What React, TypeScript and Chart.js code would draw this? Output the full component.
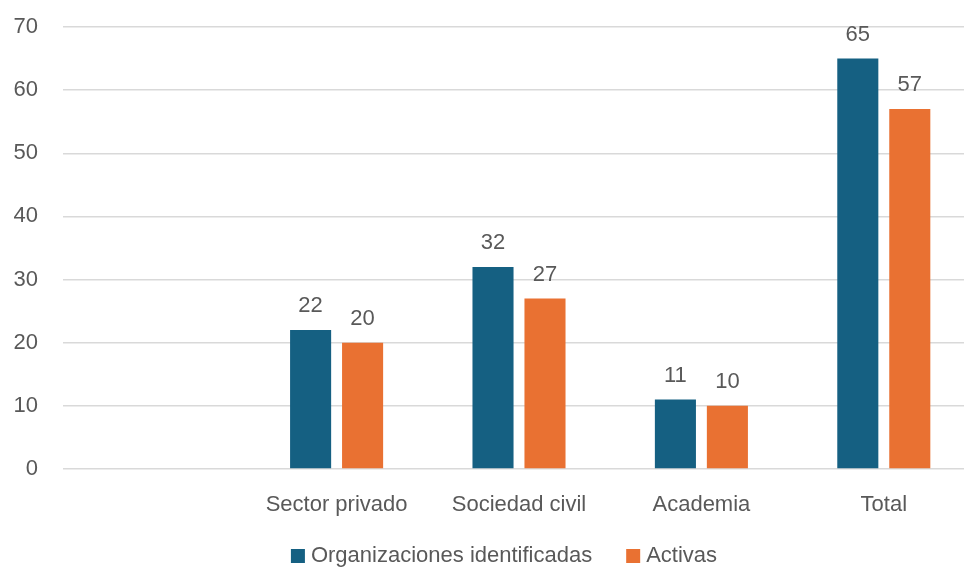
import React, { useEffect, useRef } from "react";
import { Chart, registerables } from "chart.js";

Chart.register(...registerables);

const categories = ["", "Sector privado", "Sociedad civil", "Academia", "Total"];
const identificadas = [null, 22, 32, 11, 65];
const activas = [null, 20, 27, 10, 57];
const seriesNames = ["Organizaciones identificadas", "Activas"];
const seriesColors = ["#156082", "#E97132"];

const FONT = "'Liberation Sans', 'DejaVu Sans', sans-serif";
const GREY = "#595959";

const valueLabels = {
  id: "valueLabels",
  afterDatasetsDraw(chart: any) {
    const ctx = chart.ctx;
    ctx.save();
    ctx.font = `22px ${FONT}`;
    ctx.fillStyle = GREY;
    ctx.textAlign = "center";
    ctx.textBaseline = "bottom";
    chart.data.datasets.forEach((ds: any, i: number) => {
      const meta = chart.getDatasetMeta(i);
      meta.data.forEach((bar: any, j: number) => {
        const v = ds.data[j];
        if (v === null || v === undefined) return;
        ctx.fillText(String(v), bar.x, bar.y - 13);
      });
    });
    ctx.restore();
  },
};

const bottomLegend = {
  id: "bottomLegend",
  afterDraw(chart: any) {
    const ctx = chart.ctx;
    ctx.save();
    ctx.font = `22px ${FONT}`;
    ctx.textBaseline = "middle";
    ctx.textAlign = "left";
    const box = 14;
    const gap = 6;
    const spacing = 34;
    const items = chart.data.datasets.map((ds: any) => ({
      label: ds.label,
      color: ds.backgroundColor,
      w: ctx.measureText(ds.label).width,
    }));
    let total = 0;
    items.forEach((it: any, i: number) => {
      total += box + gap + it.w + (i < items.length - 1 ? spacing : 0);
    });
    const centerX = 504;
    const y = 556;
    let x = centerX - total / 2;
    items.forEach((it: any) => {
      ctx.fillStyle = it.color;
      ctx.fillRect(x, y - box / 2, box, box);
      x += box + gap;
      ctx.fillStyle = GREY;
      ctx.fillText(it.label, x, y);
      x += it.w + spacing;
    });
    ctx.restore();
  },
};

export default function App() {
  const ref = useRef<HTMLCanvasElement | null>(null);
  useEffect(() => {
    if (!ref.current) return;
    const chart = new Chart(ref.current, {
      type: "bar",
      data: {
        labels: categories,
        datasets: [
          {
            label: seriesNames[0],
            data: identificadas as any,
            backgroundColor: seriesColors[0],
            categoryPercentage: 0.57,
            barPercentage: 0.79,
          },
          {
            label: seriesNames[1],
            data: activas as any,
            backgroundColor: seriesColors[1],
            categoryPercentage: 0.57,
            barPercentage: 0.79,
          },
        ],
      },
      options: {
        animation: false,
        responsive: true,
        maintainAspectRatio: false,
        layout: { padding: { top: 27, left: 0, right: 0, bottom: 0 } },
        scales: {
          x: {
            grid: { display: false },
            border: { display: false },
            ticks: { color: GREY, font: { family: FONT, size: 22 }, padding: 15 },
            afterFit: (scale: any) => {
              scale.height = 98;
            },
          },
          y: {
            min: 0,
            max: 70,
            ticks: { stepSize: 10, color: GREY, font: { family: FONT, size: 22 }, padding: 25 },
            grid: { color: "#D9D9D9", lineWidth: 1.5, drawTicks: false },
            border: { display: false },
            afterFit: (scale: any) => {
              scale.width = 63;
              scale.paddingTop = 0;
              scale.paddingBottom = 0;
            },
          },
        },
        plugins: {
          legend: { display: false },
          tooltip: { enabled: false },
        },
      },
      plugins: [valueLabels, bottomLegend],
    });
    return () => chart.destroy();
  }, []);
  return (
    <div style={{ position: "fixed", left: 0, top: 0, width: 964, height: 567, overflow: "hidden", background: "#fff" }}>
      <div style={{ position: "absolute", left: 0, top: 0, width: 975, height: 567 }}>
        <canvas ref={ref} />
      </div>
    </div>
  );
}
